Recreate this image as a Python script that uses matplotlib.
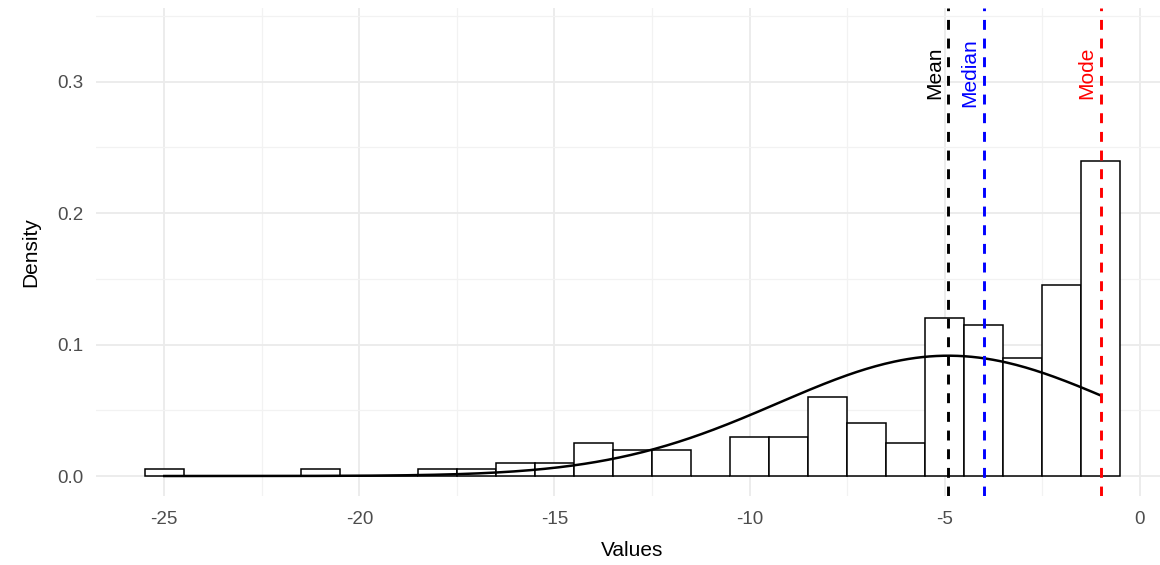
import numpy as np
import matplotlib
matplotlib.use("Agg")
import matplotlib.pyplot as plt
from matplotlib.ticker import MultipleLocator, FixedLocator

# ---- data (integer values and their counts; N = 200) ----
values = [-25, -21, -18, -17, -16, -15, -14, -13, -12, -10, -9, -8, -7, -6, -5, -4, -3, -2, -1]
counts = [1, 1, 1, 1, 2, 2, 5, 4, 4, 6, 6, 12, 8, 5, 24, 23, 18, 29, 48]
x_ticks = [-25, -20, -15, -10, -5, 0]
y_ticks = [0.0, 0.1, 0.2, 0.3]
stat_labels = ["Mean", "Median", "Mode"]
stat_colors = ["black", "blue", "red"]

# raw sample reconstructed from counts
sample = np.repeat(values, counts)
mean_v = sample.mean()
median_v = np.median(sample)
vals_u, cnt_u = np.unique(sample, return_counts=True)
mode_v = vals_u[np.argmax(cnt_u)]
sd_v = sample.std(ddof=1)

plt.rcParams['font.family'] = ['Liberation Sans', 'DejaVu Sans']

fig = plt.figure(figsize=(11.6, 5.65), dpi=100)
ax = fig.add_axes([96 / 1160, 1 - 496 / 565, (1169 - 96) / 1160, (496 - 8) / 565])

# grid
ax.set_axisbelow(True)
ax.xaxis.set_major_locator(FixedLocator(x_ticks))
ax.xaxis.set_minor_locator(MultipleLocator(2.5))
ax.yaxis.set_major_locator(FixedLocator(y_ticks))
ax.yaxis.set_minor_locator(MultipleLocator(0.05))
ax.grid(which='major', color='#EBEBEB', linewidth=1.3)
ax.grid(which='minor', color='#F2F2F2', linewidth=0.9)

# histogram (density)
bins = np.arange(min(values) - 0.5, max(values) + 1.5, 1.0)
ax.hist(sample, bins=bins, density=True, facecolor='white', edgecolor='black',
        linewidth=1.1, zorder=2)

# normal density curve over the data range
xs = np.linspace(sample.min(), sample.max(), 400)
ys = np.exp(-0.5 * ((xs - mean_v) / sd_v) ** 2) / (sd_v * np.sqrt(2 * np.pi))
ax.plot(xs, ys, color='black', linewidth=1.8, zorder=3)

# mean / median / mode lines and labels
for v, lab, col in zip([mean_v, median_v, mode_v], stat_labels, stat_colors):
    ax.axvline(v, color=col, linewidth=2.1, linestyle=(0, (3.4, 3.0)), zorder=4)
    ax.annotate(lab, xy=(v, 0.3065), xytext=(-6, 0), textcoords='offset points',
                rotation=90, rotation_mode='anchor', ha='center', va='baseline',
                fontsize=15, color=col, zorder=5)

ax.set_xlim(-26.75, 0.75)
ax.set_ylim(-0.0152, 0.356)

ax.set_xticklabels(['-25', '-20', '-15', '-10', '-5', '0'])
ax.set_yticklabels(['0.0', '0.1', '0.2', '0.3'])
ax.tick_params(which='both', length=0, labelsize=13.5, labelcolor='#4D4D4D')
ax.tick_params(axis='x', pad=11)
ax.tick_params(axis='y', pad=9)
for s in ax.spines.values():
    s.set_visible(False)

ax.set_xlabel('Values', fontsize=15, labelpad=9)
ax.set_ylabel('Density', fontsize=15, labelpad=12)

fig.savefig('out.png', dpi=100)
